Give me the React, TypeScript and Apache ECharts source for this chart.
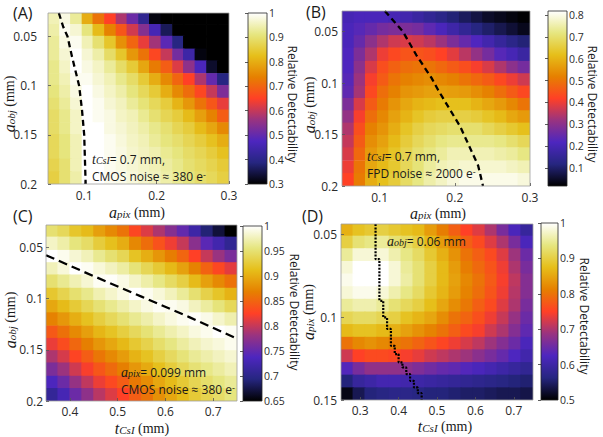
import React, { useEffect, useRef } from "react";
import * as echarts from "echarts";

// Colormap (black -> navy -> violet -> red -> orange -> yellow -> white)
const CMR_COLORS = ["#000000", "#262680", "#4d26bf", "#993380", "#ff4026", "#e68000", "#e6bf1a", "#e6e680", "#ffffff"];

// ---------------- Panel A : a_pix vs a_obj (CMOS) ----------------
const aPixA = [0.058, 0.074, 0.089, 0.105, 0.12, 0.136, 0.152, 0.167, 0.183, 0.198, 0.214, 0.23, 0.245, 0.261, 0.277, 0.292];
const aObjA = [0.031, 0.044, 0.056, 0.069, 0.081, 0.094, 0.106, 0.119, 0.131, 0.144, 0.156, 0.169, 0.181, 0.194];
const detA = [
  [0.95, 0.98, 0.93, 0.8, 0.72, 0.65, 0.58, 0.51, 0.41, 0.31, 0.3, 0.3, 0.3, 0.3, 0.3, 0.3],
  [0.94, 0.99, 0.97, 0.91, 0.82, 0.74, 0.68, 0.61, 0.54, 0.46, 0.36, 0.3, 0.3, 0.3, 0.3, 0.3],
  [0.93, 0.98, 0.99, 0.95, 0.9, 0.84, 0.76, 0.7, 0.63, 0.57, 0.49, 0.39, 0.3, 0.3, 0.3, 0.3],
  [0.93, 0.97, 1.0, 0.97, 0.94, 0.89, 0.84, 0.77, 0.72, 0.66, 0.6, 0.52, 0.44, 0.31, 0.3, 0.3],
  [0.92, 0.96, 1.0, 0.98, 0.96, 0.93, 0.89, 0.85, 0.79, 0.73, 0.69, 0.62, 0.55, 0.47, 0.33, 0.3],
  [0.92, 0.95, 0.99, 0.99, 0.97, 0.95, 0.92, 0.89, 0.85, 0.8, 0.75, 0.7, 0.65, 0.58, 0.5, 0.39],
  [0.91, 0.94, 0.98, 1.0, 0.98, 0.96, 0.94, 0.91, 0.88, 0.85, 0.8, 0.75, 0.71, 0.66, 0.6, 0.53],
  [0.9, 0.93, 0.97, 1.0, 0.99, 0.97, 0.955, 0.93, 0.905, 0.88, 0.855, 0.81, 0.77, 0.72, 0.68, 0.63],
  [0.89, 0.92, 0.96, 1.0, 0.99, 0.98, 0.96, 0.95, 0.925, 0.9, 0.875, 0.855, 0.82, 0.78, 0.74, 0.69],
  [0.89, 0.92, 0.96, 1.0, 1.0, 0.98, 0.97, 0.955, 0.94, 0.92, 0.9, 0.875, 0.855, 0.82, 0.79, 0.75],
  [0.88, 0.91, 0.95, 1.0, 1.0, 0.99, 0.975, 0.96, 0.95, 0.93, 0.91, 0.895, 0.875, 0.855, 0.83, 0.8],
  [0.88, 0.91, 0.95, 1.0, 1.0, 0.99, 0.98, 0.965, 0.955, 0.945, 0.925, 0.91, 0.89, 0.875, 0.855, 0.83],
  [0.87, 0.9, 0.95, 1.0, 1.0, 0.99, 0.98, 0.97, 0.96, 0.95, 0.935, 0.92, 0.9, 0.885, 0.87, 0.85],
  [0.86, 0.9, 0.94, 1.0, 1.0, 0.99, 0.985, 0.975, 0.965, 0.955, 0.94, 0.925, 0.91, 0.895, 0.88, 0.86],
];
const dashA_aPix = [0.065, 0.071, 0.077, 0.083, 0.088, 0.093, 0.097, 0.1, 0.101, 0.102];
const dashA_aObj = [0.026, 0.04, 0.05, 0.07, 0.085, 0.1, 0.125, 0.15, 0.175, 0.2];
const xRangeA = [0.05, 0.3];
const yRangeA = [0.026, 0.2];
const rangeA = [0.3, 1];
const xTicksA = [0.1, 0.2, 0.3];
const yTicksA = [0.05, 0.1, 0.15, 0.2];
const cbTicksA = [0.3, 0.4, 0.5, 0.6, 0.7, 0.8, 0.9, 1];

// ---------------- Panel B : a_pix vs a_obj (FPD) ----------------
const aPixB = [0.058, 0.074, 0.089, 0.105, 0.12, 0.136, 0.152, 0.167, 0.183, 0.198, 0.214, 0.23, 0.245, 0.261, 0.277, 0.292];
const aObjB = [0.036, 0.048, 0.06, 0.072, 0.085, 0.097, 0.109, 0.121, 0.133, 0.145, 0.157, 0.169, 0.182, 0.194];
const detB = [
  [0.2, 0.21, 0.21, 0.21, 0.2, 0.19, 0.17, 0.15, 0.13, 0.11, 0.09, 0.07, 0.05, 0.04, 0.03, 0.02],
  [0.21, 0.23, 0.25, 0.27, 0.28, 0.28, 0.27, 0.24, 0.21, 0.18, 0.15, 0.12, 0.1, 0.08, 0.06, 0.04],
  [0.21, 0.25, 0.3, 0.34, 0.37, 0.38, 0.37, 0.35, 0.32, 0.28, 0.25, 0.22, 0.19, 0.16, 0.13, 0.11],
  [0.22, 0.28, 0.34, 0.4, 0.43, 0.45, 0.45, 0.44, 0.42, 0.39, 0.35, 0.31, 0.27, 0.23, 0.2, 0.17],
  [0.22, 0.3, 0.38, 0.44, 0.47, 0.49, 0.5, 0.5, 0.48, 0.46, 0.44, 0.41, 0.38, 0.34, 0.3, 0.27],
  [0.23, 0.32, 0.41, 0.46, 0.5, 0.52, 0.53, 0.54, 0.53, 0.52, 0.5, 0.48, 0.46, 0.43, 0.4, 0.37],
  [0.24, 0.33, 0.43, 0.49, 0.52, 0.55, 0.56, 0.57, 0.57, 0.565, 0.56, 0.54, 0.52, 0.49, 0.46, 0.43],
  [0.28, 0.38, 0.46, 0.51, 0.55, 0.58, 0.6, 0.61, 0.62, 0.62, 0.62, 0.6, 0.58, 0.56, 0.53, 0.5],
  [0.31, 0.41, 0.49, 0.53, 0.57, 0.6, 0.63, 0.65, 0.66, 0.66, 0.66, 0.65, 0.63, 0.61, 0.58, 0.56],
  [0.34, 0.44, 0.52, 0.55, 0.59, 0.63, 0.66, 0.68, 0.69, 0.7, 0.7, 0.7, 0.68, 0.66, 0.64, 0.62],
  [0.36, 0.46, 0.54, 0.57, 0.61, 0.65, 0.68, 0.7, 0.72, 0.73, 0.73, 0.73, 0.73, 0.72, 0.7, 0.68],
  [0.38, 0.48, 0.56, 0.59, 0.63, 0.67, 0.7, 0.72, 0.74, 0.76, 0.76, 0.76, 0.76, 0.75, 0.74, 0.72],
  [0.4, 0.5, 0.58, 0.61, 0.64, 0.68, 0.71, 0.74, 0.76, 0.77, 0.78, 0.78, 0.78, 0.78, 0.77, 0.76],
  [0.42, 0.51, 0.59, 0.62, 0.65, 0.69, 0.72, 0.75, 0.77, 0.79, 0.8, 0.8, 0.8, 0.8, 0.8, 0.79],
];
const dashB_aPix = [0.107, 0.131, 0.149, 0.169, 0.178, 0.207, 0.231, 0.2375];
const dashB_aObj = [0.03, 0.05, 0.073, 0.095, 0.107, 0.142, 0.18, 0.2];
const xRangeB = [0.05, 0.3];
const yRangeB = [0.03, 0.2];
const rangeB = [0.018, 0.818];
const xTicksB = [0.1, 0.2, 0.3];
const yTicksB = [0.05, 0.1, 0.15, 0.2];
const cbTicksB = [0.1, 0.2, 0.3, 0.4, 0.5, 0.6, 0.7, 0.8];

// ---------------- Panel C : t_CsI vs a_obj ----------------
const tCsiC = [0.3625, 0.3875, 0.4125, 0.4375, 0.4625, 0.4875, 0.5125, 0.5375, 0.5625, 0.5875, 0.6125, 0.6375, 0.6625, 0.6875, 0.7125, 0.7375];
const aObjC = [0.034, 0.046, 0.059, 0.071, 0.083, 0.096, 0.108, 0.12, 0.133, 0.145, 0.157, 0.169, 0.182, 0.194];
const detC = [
  [0.95, 0.94, 0.92, 0.91, 0.89, 0.875, 0.86, 0.83, 0.81, 0.79, 0.77, 0.75, 0.72, 0.69, 0.67, 0.65],
  [0.98, 0.97, 0.955, 0.945, 0.927, 0.914, 0.9, 0.874, 0.856, 0.837, 0.818, 0.8, 0.772, 0.745, 0.725, 0.706],
  [1.0, 0.994, 0.985, 0.976, 0.962, 0.95, 0.938, 0.917, 0.901, 0.884, 0.867, 0.85, 0.825, 0.8, 0.781, 0.763],
  [0.976, 0.987, 1.0, 0.996, 0.987, 0.978, 0.968, 0.953, 0.938, 0.924, 0.908, 0.892, 0.87, 0.848, 0.83, 0.813],
  [0.95, 0.962, 0.974, 0.985, 0.996, 0.998, 0.991, 0.981, 0.97, 0.958, 0.944, 0.931, 0.91, 0.891, 0.875, 0.859],
  [0.922, 0.935, 0.949, 0.96, 0.973, 0.982, 0.991, 1.0, 0.995, 0.987, 0.977, 0.965, 0.95, 0.933, 0.919, 0.904],
  [0.896, 0.91, 0.925, 0.938, 0.951, 0.961, 0.971, 0.981, 0.99, 0.997, 0.995, 0.99, 0.978, 0.967, 0.954, 0.94],
  [0.87, 0.885, 0.901, 0.915, 0.929, 0.94, 0.951, 0.962, 0.971, 0.981, 0.989, 0.995, 0.998, 0.992, 0.982, 0.972],
  [0.842, 0.858, 0.876, 0.89, 0.906, 0.917, 0.929, 0.941, 0.952, 0.963, 0.972, 0.98, 0.989, 0.994, 1.0, 0.996],
  [0.816, 0.833, 0.852, 0.868, 0.884, 0.896, 0.908, 0.923, 0.934, 0.947, 0.957, 0.967, 0.976, 0.983, 0.988, 0.994],
  [0.79, 0.807, 0.828, 0.845, 0.862, 0.875, 0.888, 0.904, 0.916, 0.93, 0.942, 0.953, 0.964, 0.971, 0.978, 0.984],
  [0.764, 0.782, 0.804, 0.822, 0.84, 0.854, 0.868, 0.885, 0.898, 0.914, 0.927, 0.939, 0.951, 0.959, 0.967, 0.975],
  [0.736, 0.755, 0.779, 0.798, 0.817, 0.831, 0.845, 0.864, 0.878, 0.896, 0.91, 0.924, 0.937, 0.947, 0.956, 0.964],
  [0.71, 0.73, 0.755, 0.775, 0.795, 0.81, 0.825, 0.845, 0.86, 0.88, 0.895, 0.91, 0.925, 0.935, 0.945, 0.955],
];
const dashC_tCsi = [0.35, 0.45, 0.55, 0.65, 0.75];
const dashC_aObj = [0.0575, 0.078, 0.098, 0.118, 0.139];
const xRangeC = [0.35, 0.75];
const yRangeC = [0.028, 0.2];
const rangeC = [0.65, 1];
const xTicksC = [0.4, 0.5, 0.6, 0.7];
const yTicksC = [0.05, 0.1, 0.15, 0.2];
const cbTicksC = [0.65, 0.7, 0.75, 0.8, 0.85, 0.9, 0.95, 1];

// ---------------- Panel D : t_CsI vs a_pix ----------------
const tCsiD = [0.266, 0.297, 0.328, 0.359, 0.391, 0.422, 0.453, 0.484, 0.516, 0.547, 0.578, 0.609, 0.641, 0.672, 0.703, 0.734];
const aPixD = [0.047, 0.0547, 0.0623, 0.07, 0.0776, 0.0853, 0.0929, 0.1006, 0.1082, 0.1159, 0.1235, 0.1312, 0.1388, 0.1465];
const detD = [
  [0.86, 0.88, 0.89, 0.9, 0.89, 0.88, 0.87, 0.84, 0.81, 0.78, 0.75, 0.73, 0.7, 0.66, 0.62, 0.59],
  [0.9, 0.93, 0.94, 0.95, 0.93, 0.92, 0.9, 0.87, 0.84, 0.81, 0.78, 0.76, 0.73, 0.7, 0.66, 0.62],
  [0.95, 0.98, 0.98, 0.98, 0.96, 0.94, 0.92, 0.89, 0.86, 0.83, 0.8, 0.78, 0.76, 0.73, 0.69, 0.65],
  [0.98, 1.0, 1.0, 1.0, 0.98, 0.95, 0.93, 0.9, 0.87, 0.84, 0.81, 0.79, 0.77, 0.74, 0.7, 0.66],
  [0.99, 1.0, 1.0, 1.0, 0.98, 0.955, 0.93, 0.9, 0.87, 0.845, 0.82, 0.8, 0.775, 0.745, 0.71, 0.67],
  [0.98, 0.99, 0.99, 0.98, 0.96, 0.94, 0.92, 0.89, 0.865, 0.84, 0.815, 0.795, 0.77, 0.74, 0.705, 0.67],
  [0.95, 0.96, 0.96, 0.95, 0.93, 0.915, 0.9, 0.875, 0.85, 0.825, 0.805, 0.78, 0.76, 0.73, 0.7, 0.66],
  [0.91, 0.92, 0.92, 0.91, 0.9, 0.88, 0.865, 0.85, 0.825, 0.8, 0.785, 0.765, 0.74, 0.715, 0.685, 0.65],
  [0.87, 0.88, 0.88, 0.87, 0.86, 0.845, 0.83, 0.815, 0.8, 0.78, 0.76, 0.745, 0.72, 0.7, 0.67, 0.64],
  [0.8, 0.82, 0.83, 0.82, 0.81, 0.8, 0.785, 0.77, 0.755, 0.74, 0.725, 0.71, 0.69, 0.67, 0.65, 0.62],
  [0.72, 0.75, 0.76, 0.76, 0.755, 0.745, 0.735, 0.72, 0.71, 0.7, 0.69, 0.675, 0.66, 0.645, 0.625, 0.605],
  [0.63, 0.66, 0.68, 0.68, 0.68, 0.675, 0.665, 0.655, 0.645, 0.64, 0.63, 0.62, 0.61, 0.6, 0.59, 0.58],
  [0.56, 0.59, 0.6, 0.61, 0.61, 0.605, 0.6, 0.595, 0.59, 0.585, 0.58, 0.575, 0.57, 0.565, 0.56, 0.555],
  [0.51, 0.54, 0.56, 0.565, 0.57, 0.57, 0.565, 0.56, 0.56, 0.555, 0.55, 0.55, 0.545, 0.54, 0.54, 0.535],
];
// optimal t_CsI (staircase) per a_pix band
const optTD = [0.34, 0.35, 0.36, 0.37, 0.38, 0.39, 0.4, 0.41, 0.42, 0.43, 0.44, 0.45, 0.46];
const optEdgesD = [0.0435, 0.0648, 0.09, 0.1, 0.107, 0.1172, 0.1222, 0.1272, 0.1303, 0.1343, 0.1384, 0.1424, 0.1459, 0.15];
const xRangeD = [0.25, 0.75];
const yRangeD = [0.0435, 0.15];
const rangeD = [0.5, 1];
const xTicksD = [0.3, 0.4, 0.5, 0.6, 0.7];
const yTicksD = [0.05, 0.1, 0.15];
const cbTicksD = [0.5, 0.6, 0.7, 0.8, 0.9, 1];

// ---------------- layout (pixels) ----------------
const LAYOUT = [
  { main: { left: 48, top: 13, width: 181, height: 171 }, cb: { left: 248, top: 13, width: 19, height: 171 }, yMargin: 11, xMargin: 5 },
  { main: { left: 342, top: 11, width: 188, height: 175 }, cb: { left: 548, top: 11, width: 19, height: 175 }, yMargin: 4, xMargin: 5 },
  { main: { left: 46, top: 225, width: 191, height: 176 }, cb: { left: 243, top: 226, width: 19, height: 175 }, yMargin: 3, xMargin: 4 },
  { main: { left: 341, top: 224, width: 192, height: 176 }, cb: { left: 541, top: 223, width: 17, height: 177 }, yMargin: 4, xMargin: 4 },
];

const SANS = "'Open Sans', 'Noto Sans', sans-serif";
const SERIF = "'Liberation Serif', 'DejaVu Serif', serif";
const TXT = "#1a1a1a";

function cells(xs: number[], ys: number[], vals: number[][]) {
  const out: number[][] = [];
  ys.forEach((y, j) => xs.forEach((x, i) => out.push([x, y, vals[j][i]])));
  return out;
}

function heatRender(xs: number[], ys: number[]) {
  const hx = (xs[xs.length - 1] - xs[0]) / (xs.length - 1) / 2;
  const hy = (ys[ys.length - 1] - ys[0]) / (ys.length - 1) / 2;
  return (params: any, api: any) => {
    const x = api.value(0);
    const y = api.value(1);
    const p0 = api.coord([x - hx, y - hy]);
    const p1 = api.coord([x + hx, y + hy]);
    const left = Math.min(p0[0], p1[0]);
    const top = Math.min(p0[1], p1[1]);
    return {
      type: "rect",
      shape: { x: left - 0.5, y: top - 0.5, width: Math.abs(p1[0] - p0[0]) + 1, height: Math.abs(p1[1] - p0[1]) + 1 },
      style: { fill: api.visual("color") },
    };
  };
}

const cbGradient = () =>
  new echarts.graphic.LinearGradient(
    0, 1, 0, 0,
    CMR_COLORS.map((c, i) => ({ offset: i / (CMR_COLORS.length - 1), color: c }))
  );

function cbRender(params: any, api: any) {
  const lo = api.value(1);
  const hi = api.value(2);
  const p0 = api.coord([0, hi]);
  const p1 = api.coord([1, lo]);
  return {
    type: "rect",
    shape: { x: p0[0], y: p0[1], width: p1[0] - p0[0], height: p1[1] - p0[1] },
    style: { fill: cbGradient() },
  };
}

const PANELS = [
  { xs: aPixA, ys: aObjA, vals: detA, xRange: xRangeA, yRange: yRangeA, range: rangeA, xTicks: xTicksA, yTicks: yTicksA, cbTicks: cbTicksA, lineX: dashA_aPix, lineY: dashA_aObj, dash: [6, 4] },
  { xs: aPixB, ys: aObjB, vals: detB, xRange: xRangeB, yRange: yRangeB, range: rangeB, xTicks: xTicksB, yTicks: yTicksB, cbTicks: cbTicksB, lineX: dashB_aPix, lineY: dashB_aObj, dash: [6, 4] },
  { xs: tCsiC, ys: aObjC, vals: detC, xRange: xRangeC, yRange: yRangeC, range: rangeC, xTicks: xTicksC, yTicks: yTicksC, cbTicks: cbTicksC, lineX: dashC_tCsi, lineY: dashC_aObj, dash: [9, 5] },
  { xs: tCsiD, ys: aPixD, vals: detD, xRange: xRangeD, yRange: yRangeD, range: rangeD, xTicks: xTicksD, yTicks: yTicksD, cbTicks: cbTicksD, lineX: null as any, lineY: null as any, dash: [2, 1.4] },
];

const axisNameRich = {
  v: { fontFamily: SERIF, fontStyle: "italic", fontSize: 16, lineHeight: 14, fill: TXT },
  s: { fontFamily: SERIF, fontStyle: "italic", fontSize: 11, lineHeight: 7, fill: TXT, verticalAlign: "bottom" },
  u: { fontFamily: SERIF, fontSize: 14, lineHeight: 14, fill: TXT },
};
const noteRich = {
  v: { fontFamily: SERIF, fontStyle: "italic", fontSize: 14, lineHeight: 13, fill: TXT },
  s: { fontFamily: SERIF, fontStyle: "italic", fontSize: 10, lineHeight: 7, fill: TXT, verticalAlign: "bottom" },
  n: { fontFamily: SANS, fontSize: 12, lineHeight: 13, fill: TXT },
  sup: { fontFamily: SANS, fontSize: 9, lineHeight: 7, fill: TXT, verticalAlign: "top" },
};

function txt(x: number, y: number, text: string, rich: any, opts: any = {}) {
  return {
    type: "text",
    x,
    y,
    rotation: opts.rotation || 0,
    silent: true,
    z: 20,
    style: { text, rich, align: opts.align || "left", verticalAlign: "middle", fill: TXT },
  };
}

function plain(x: number, y: number, text: string, size: number, rotation = 0, align = "center") {
  return {
    type: "text",
    x,
    y,
    rotation,
    silent: true,
    z: 20,
    style: { text, fontFamily: SANS, fontSize: size, fill: TXT, align, verticalAlign: "middle" },
  };
}

function buildOption() {
  const grid: any[] = [];
  const xAxis: any[] = [];
  const yAxis: any[] = [];
  const series: any[] = [];
  const visualMap: any[] = [];
  const labelStyle = { fontSize: 12, fontFamily: SANS, color: "#2b2b2b" };
  const cbLabelStyle = { fontSize: 10.5, fontFamily: SANS, color: "#2b2b2b" };

  PANELS.forEach((p, k) => {
    const L = LAYOUT[k];
    const gi = k * 2;
    const ci = k * 2 + 1;
    grid.push({ ...L.main, show: true, backgroundColor: "transparent", borderColor: "#a0a0a0", borderWidth: 0.8, z: 10, containLabel: false, outerBoundsMode: "none" });
    grid.push({ ...L.cb, show: true, backgroundColor: "transparent", borderColor: "#262626", borderWidth: 0.8, z: 10, containLabel: false, outerBoundsMode: "none" });

    xAxis.push({
      gridIndex: gi, type: "value", min: p.xRange[0], max: p.xRange[1], z: 10,
      axisLine: { show: false }, splitLine: { show: false },
      axisTick: { show: true, inside: true, length: 3, customValues: p.xTicks, lineStyle: { color: "#555", width: 0.8 } },
      axisLabel: { ...labelStyle, customValues: p.xTicks, margin: L.xMargin },
    });
    xAxis.push({ gridIndex: ci, type: "value", min: 0, max: 1, show: false });
    yAxis.push({
      gridIndex: gi, type: "value", inverse: true, min: p.yRange[0], max: p.yRange[1], z: 10,
      axisLine: { show: false }, splitLine: { show: false },
      axisTick: { show: true, inside: true, length: 3, customValues: p.yTicks, lineStyle: { color: "#555", width: 0.8 } },
      axisLabel: { ...labelStyle, customValues: p.yTicks, margin: L.yMargin },
    });
    yAxis.push({
      gridIndex: ci, type: "value", position: "right", min: p.range[0], max: p.range[1], z: 10,
      axisLine: { show: false }, splitLine: { show: false },
      axisTick: { show: true, inside: true, length: 3, customValues: p.cbTicks, lineStyle: { color: "#333", width: 0.8 } },
      axisLabel: { ...cbLabelStyle, customValues: p.cbTicks, margin: 2 },
    });

    const hs = series.length;
    series.push({
      type: "custom", xAxisIndex: gi, yAxisIndex: gi, clip: true, silent: true, z: 1,
      encode: { x: 0, y: 1 },
      data: cells(p.xs, p.ys, p.vals),
      renderItem: heatRender(p.xs, p.ys),
    });
    series.push({
      type: "custom", xAxisIndex: ci, yAxisIndex: ci, silent: true, z: 1,
      encode: { x: 0, y: [1, 2] },
      data: [[0, p.range[0], p.range[1]]],
      renderItem: cbRender,
    });
    visualMap.push({
      type: "continuous", show: false, seriesIndex: hs, dimension: 2,
      min: p.range[0], max: p.range[1], inRange: { color: CMR_COLORS },
    });

    let lineData: number[][];
    if (p.lineX) {
      lineData = p.lineX.map((x: number, i: number) => [x, p.lineY[i]]);
    } else {
      lineData = [];
      optTD.forEach((t, i) => {
        lineData.push([t, optEdgesD[i]], [t, optEdgesD[i + 1]]);
      });
    }
    series.push({
      type: "line", xAxisIndex: gi, yAxisIndex: gi, silent: true, z: 5,
      symbol: "none", showSymbol: false,
      data: lineData,
      lineStyle: { color: "#000", width: k === 3 ? 2.2 : 2.3, type: p.dash, cap: "butt" },
    });
  });

  const graphic: any[] = [
    // panel letters
    plain(13, 13, "(A)", 16, 0, "left"),
    plain(306, 12, "(B)", 16, 0, "left"),
    plain(13, 216, "(C)", 16, 0, "left"),
    plain(302, 216, "(D)", 16, 0, "left"),
    // colorbar titles
    plain(292, 104, "Relative Detectability", 12, -Math.PI / 2),
    plain(592, 104, "Relative Detectability", 12, -Math.PI / 2),
    plain(294, 312, "Relative Detectability", 12, -Math.PI / 2),
    plain(584, 316, "Relative Detectability", 12, -Math.PI / 2),
    // x axis names
    txt(137, 212, "{v|a}{s|pix}{u| (mm)}", axisNameRich, { align: "center" }),
    txt(438, 213, "{v|a}{s|pix}{u| (mm)}", axisNameRich, { align: "center" }),
    txt(142, 428, "{v|t}{s|CsI}{u| (mm)}", axisNameRich, { align: "center" }),
    txt(445, 426, "{v|t}{s|CsI}{u| (mm)}", axisNameRich, { align: "center" }),
    // y axis names
    txt(9, 104, "{v|a}{s|obj}{u| (mm)}", axisNameRich, { align: "center", rotation: Math.PI / 2 }),
    txt(309, 105, "{v|a}{s|obj}{u| (mm)}", axisNameRich, { align: "center", rotation: Math.PI / 2 }),
    txt(10, 320, "{v|a}{s|obj}{u| (mm)}", axisNameRich, { align: "center", rotation: Math.PI / 2 }),
    txt(308, 312, "{v|a}{s|pix}{u| (mm)}", axisNameRich, { align: "center", rotation: Math.PI / 2 }),
    // annotations
    txt(92, 159, "{v|t}{s|CsI}{n|= 0.7 mm,}", noteRich),
    txt(92, 176, "{n|CMOS noise ≈ 380 e}{sup|-}", noteRich),
    txt(367, 156, "{v|t}{s|CsI}{n|= 0.7 mm,}", noteRich),
    txt(367, 173, "{n|FPD noise ≈ 2000 e}{sup|-}", noteRich),
    txt(121, 372, "{v|a}{s|pix}{n|= 0.099 mm}", noteRich),
    txt(121, 389, "{n|CMOS noise ≈ 380 e}{sup|-}", noteRich),
    txt(387, 241, "{v|a}{s|obj}{n|= 0.06 mm}", noteRich),
  ];

  return {
    animation: false,
    backgroundColor: "#ffffff",
    grid,
    xAxis,
    yAxis,
    visualMap,
    series,
    graphic,
  };
}

export default function App() {
  const ref = useRef<HTMLDivElement>(null);
  useEffect(() => {
    document.body.style.margin = "0";
    if (!ref.current) return;
    const chart = echarts.init(ref.current, null, { renderer: "svg" });
    chart.setOption(buildOption() as any);
    return () => chart.dispose();
  }, []);
  return <div ref={ref} style={{ width: 603, height: 437, position: "fixed", left: 0, top: 0 }} />;
}
